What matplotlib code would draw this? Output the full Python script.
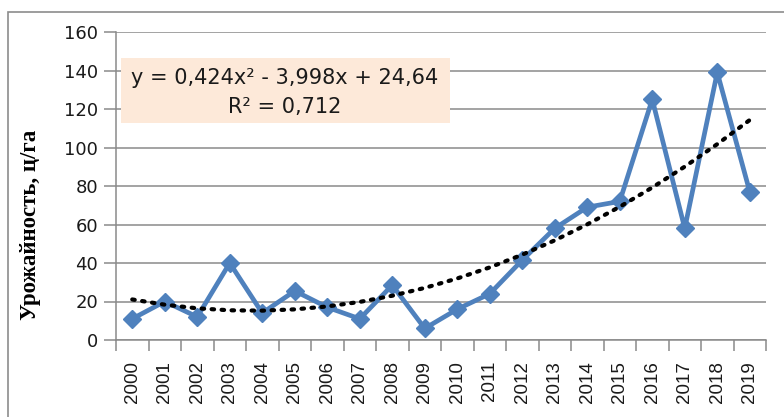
import matplotlib
matplotlib.use("Agg")
import matplotlib.pyplot as plt
import numpy as np
from matplotlib.patches import Rectangle

years = ["2000", "2001", "2002", "2003", "2004", "2005", "2006", "2007", "2008", "2009",
         "2010", "2011", "2012", "2013", "2014", "2015", "2016", "2017", "2018", "2019"]
yields = [11, 20, 12, 40, 14, 25.5, 17, 11, 28.5, 6,
          16, 24, 41.5, 58, 69, 72, 125, 58, 139, 77]
trend_coef = [0.424, -3.998, 24.64]
yticks = [0, 20, 40, 60, 80, 100, 120, 140, 160]

W, H = 784, 417
fig = plt.figure(figsize=(W / 100, H / 100), dpi=100)
fig.patch.set_facecolor("white")

# outer chart frame
fig.patches.append(Rectangle((8 / W, -0.1), 1.2, (H - 12) / H + 0.1, transform=fig.transFigure,
                             fill=False, edgecolor="#8c8c8c", linewidth=1.2))

ax = fig.add_axes([116 / W, 1 - 340 / H, 650 / W, 308 / H])
x = np.arange(len(years))
ax.plot(x, yields, color="#4F81BD", linewidth=3.4, marker="D", markersize=9.5,
        markerfacecolor="#4F81BD", markeredgecolor="#4F81BD", zorder=3)

t = np.arange(1, len(years) + 1)
trend = np.polyval(trend_coef, t)
ax.plot(x, trend, color="black", linestyle=(0, (0.6, 1.8)), linewidth=3.0,
        dash_capstyle="round", zorder=4)

ax.set_xlim(-0.5, len(years) - 0.5)
ax.set_ylim(0, 160)
ax.set_yticks(yticks)
ax.set_yticklabels([str(v) for v in yticks], fontsize=13, family="DejaVu Sans", color="#1a1a1a")
ax.yaxis.grid(True, color="#8a8a8a", linewidth=1.1)
ax.set_axisbelow(True)

ax.set_xticks(np.arange(-0.5, len(years), 1.0))
ax.set_xticklabels([])
ax.set_xticks(x, minor=True)
ax.set_xticklabels(years, minor=True, rotation=90, fontsize=13.5, family="Liberation Sans",
                   color="#1a1a1a")
ax.tick_params(axis="x", which="major", length=8, width=1.1, color="#8a8a8a", direction="out")
ax.tick_params(axis="x", which="minor", length=0, pad=15)
ax.tick_params(axis="y", length=9, width=1.1, color="#8a8a8a", pad=4)

for s in ["top", "right"]:
    ax.spines[s].set_visible(False)
ax.spines["left"].set_color("#8a8a8a")
ax.spines["bottom"].set_color("#8a8a8a")
ax.spines["left"].set_linewidth(1.1)
ax.spines["bottom"].set_linewidth(1.1)

ax.set_ylabel("Урожайность, ц/га", fontsize=16.5, family="Liberation Serif", fontweight="bold")
ax.yaxis.set_label_coords(-0.115, 0.373)

# equation box
fig.patches.append(Rectangle((121 / W, 1 - 123 / H), 329 / W, 65 / H, transform=fig.transFigure,
                             facecolor="#FDE9D9", edgecolor="none", zorder=1))
fig.text(285 / W, 1 - 78 / H, "y = 0,424x² - 3,998x + 24,64", ha="center", va="center",
         fontsize=15, family="DejaVu Sans", color="#1a1a1a", zorder=5)
fig.text(285 / W, 1 - 107 / H, "R² = 0,712", ha="center", va="center",
         fontsize=15, family="DejaVu Sans", color="#1a1a1a", zorder=5)

fig.savefig("out.png", dpi=100)
